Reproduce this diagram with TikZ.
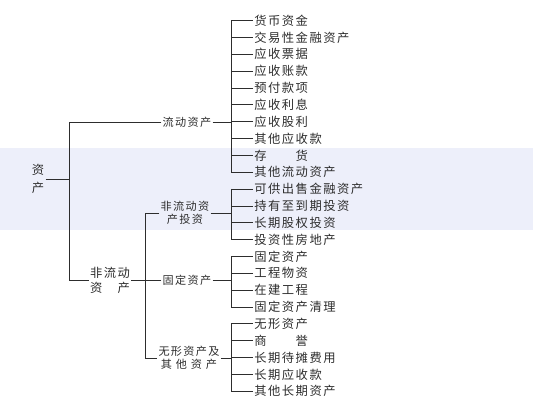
\documentclass[tikz,border=0pt]{standalone}
\usepackage{fontspec}
\newfontfamily\cjk[LetterSpace=12]{Noto Sans CJK SC}
\definecolor{inkgray}{RGB}{45, 45, 45}
\definecolor{bandblue}{RGB}{237, 239, 250}
\usetikzlibrary{positioning}

\begin{document}
\begin{tikzpicture}[
    x=0.03cm, y=-0.03cm,
    item/.style={anchor=west, inner sep=1pt, text=inkgray, font={\cjk\fontsize{10.5}{12}\selectfont}},
    group/.style={inner sep=1pt, align=center, text=inkgray, font={\cjk\fontsize{9.5}{11.5}\selectfont}},
    toplabel/.style={inner sep=1pt, align=center, text=inkgray, font={\cjk\fontsize{10.5}{13}\selectfont}},
    link/.style={draw=inkgray, line width=0.6pt}
]
    \useasboundingbox (0, 0) rectangle (533, 400);
    \fill[bandblue] (0, 148) rectangle (533, 230);

    % bracket columns
    \coordinate (spineA) at (69, 0);
    \coordinate (spineB) at (145, 0);
    \coordinate (spineC) at (231, 0);

    \node[toplabel, align=center, font={\cjk\fontsize{10.5}{15.5}\selectfont}] (zichan) at (38, 179) {资\\产};
    \node[toplabel] (feiliudong) at (110, 280) {非流动\\资　产};

    \node[group] (liudong) at (187, 122) {流动资产};
    \node[group] (touzi) at (185, 213) {非流动资\\产投资};
    \node[group] (guding) at (187, 280) {固定资产};
    \node[group] (wuxing) at (189, 358) {无形资产及\\其\hspace{0.35em}他\hspace{0.35em}资\hspace{0.35em}产};

    \node[item] (it1) at (253, 20.5) {货币资金};
    \node[item] (it2) at (253, 37.4) {交易性金融资产};
    \node[item] (it3) at (253, 54.2) {应收票据};
    \node[item] (it4) at (253, 71.1) {应收账款};
    \node[item] (it5) at (253, 87.9) {预付款项};
    \node[item] (it6) at (253, 104.8) {应收利息};
    \node[item] (it7) at (253, 121.6) {应收股利};
    \node[item] (it8) at (253, 138.5) {其他应收款};
    \node[item] (it9) at (253, 155.3) {存　　货};
    \node[item] (it10) at (253, 172.2) {其他流动资产};
    \node[item] (it11) at (253, 189) {可供出售金融资产};
    \node[item] (it12) at (253, 205.9) {持有至到期投资};
    \node[item] (it13) at (253, 222.7) {长期股权投资};
    \node[item] (it14) at (253, 239.6) {投资性房地产};
    \node[item] (it15) at (253, 256.4) {固定资产};
    \node[item] (it16) at (253, 273.3) {工程物资};
    \node[item] (it17) at (253, 290.1) {在建工程};
    \node[item] (it18) at (253, 307) {固定资产清理};
    \node[item] (it19) at (253, 323.8) {无形资产};
    \node[item] (it20) at (253, 340.7) {商　　誉};
    \node[item] (it21) at (253, 357.5) {长期待摊费用};
    \node[item] (it22) at (253, 374.4) {长期应收款};
    \node[item] (it23) at (253, 391.2) {其他长期资产};

    % first level
    \draw[link] (zichan.east) -- (zichan.east -| spineA);
    \draw[link] (liudong.west) -- (liudong.west -| spineA) -- (feiliudong.west -| spineA) -- (feiliudong.west);

    % second level
    \draw[link] (feiliudong.east) -- (feiliudong.east -| spineB);
    \draw[link] (touzi.west) -- (touzi.west -| spineB) -- (wuxing.west -| spineB) -- (wuxing.west);
    \draw[link] (guding.west) -- (guding.west -| spineB);

    % third level
    \draw[link] (liudong.east) -- (liudong.east -| spineC);
    \draw[link] (touzi.east) -- (touzi.east -| spineC);
    \draw[link] (guding.east) -- (guding.east -| spineC);
    \draw[link] (wuxing.east) -- (wuxing.east -| spineC);
    \draw[link] (it1.west -| spineC) -- (it10.west -| spineC);
    \draw[link] (it11.west -| spineC) -- (it14.west -| spineC);
    \draw[link] (it15.west -| spineC) -- (it18.west -| spineC);
    \draw[link] (it19.west -| spineC) -- (it23.west -| spineC);
    \foreach \i in {1,...,23}
        \draw[link] (it\i.west) -- (it\i.west -| spineC);
\end{tikzpicture}
\end{document}
